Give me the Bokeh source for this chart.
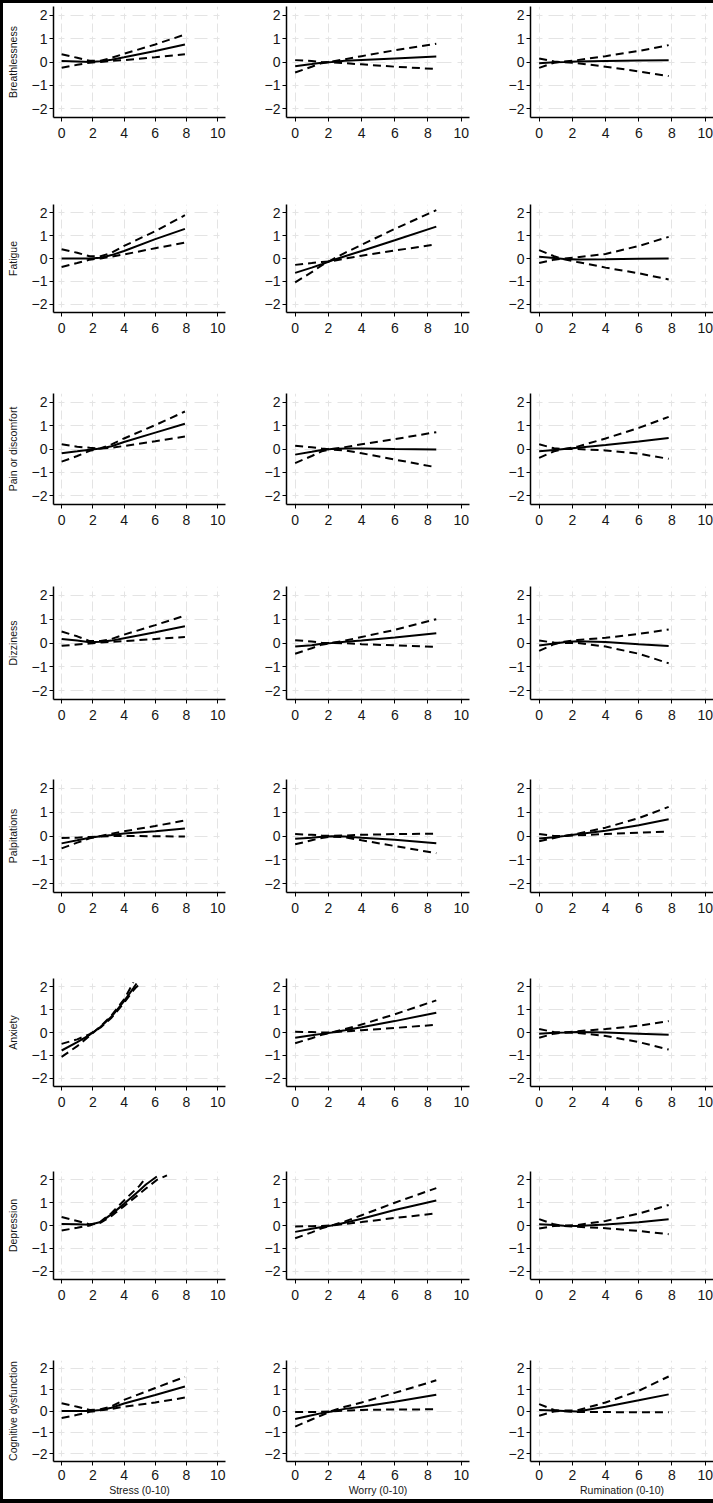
from bokeh.plotting import figure
from bokeh.layouts import column, row
from bokeh.models import Spacer, Range1d, FixedTicker
from bokeh.embed import file_html
from bokeh.resources import INLINE

NA = float("nan")

symptoms = ["Breathlessness", "Fatigue", "Pain or discomfort", "Dizziness",
            "Palpitations", "Anxiety", "Depression", "Cognitive dysfunction"]
exposures = ["Stress (0-10)", "Worry (0-10)", "Rumination (0-10)"]

x_ticks = [0, 2, 4, 6, 8, 10]
y_ticks = [-2, -1, 0, 1, 2]

# x positions of the evaluated curves, per exposure
stress_x = [0, 1, 1.8, 2.5, 3.2, 4, 6, 7.9]
worry_x = [0, 1, 1.6, 2.2, 3, 4, 6, 8.5]
rumination_x = [0, 0.9, 1.5, 2.3, 4, 6, 7.8]
anxiety_stress_x = [0, 1, 1.8, 2.5, 3.2, 4, 4.6, 4.8, 5.1]
depression_stress_x = [0, 1, 1.8, 2.5, 3.2, 4, 5, 5.4, 6.1, 6.75]

# each list: [stress, worry, rumination]
breathlessness_est = [[0.04, 0.02, 0.0, 0.03, 0.1, 0.2, 0.47, 0.75],
                      [-0.18, -0.09, -0.03, 0.0, 0.05, 0.09, 0.15, 0.23],
                      [-0.05, -0.01, 0.0, 0.02, 0.04, 0.06, 0.07]]
breathlessness_upper = [[0.33, 0.18, 0.05, 0.05, 0.18, 0.35, 0.75, 1.17],
                        [-0.45, -0.2, -0.05, 0.02, 0.12, 0.25, 0.5, 0.78],
                        [-0.25, -0.03, 0.02, 0.08, 0.25, 0.47, 0.72]]
breathlessness_lower = [[-0.25, -0.12, -0.03, 0.0, 0.05, 0.08, 0.2, 0.33],
                        [0.08, 0.04, 0.0, -0.01, -0.05, -0.1, -0.2, -0.3],
                        [0.15, 0.02, -0.01, -0.05, -0.2, -0.4, -0.6]]

fatigue_est = [[0.0, 0.0, 0.0, 0.03, 0.15, 0.33, 0.85, 1.3],
               [-0.63, -0.4, -0.25, -0.09, 0.1, 0.33, 0.8, 1.4],
               [0.08, 0.02, -0.02, -0.04, -0.03, -0.01, 0.0]]
fatigue_upper = [[0.41, 0.25, 0.1, 0.1, 0.25, 0.55, 1.2, 1.9],
                 [-1.05, -0.6, -0.3, -0.06, 0.25, 0.6, 1.3, 2.12],
                 [-0.2, -0.05, 0.0, 0.05, 0.2, 0.55, 0.95]]
fatigue_lower = [[-0.37, -0.2, -0.05, 0.0, 0.08, 0.18, 0.45, 0.7],
                 [-0.28, -0.2, -0.15, -0.12, 0.0, 0.12, 0.35, 0.62],
                 [0.37, 0.1, -0.03, -0.15, -0.4, -0.65, -0.92]]

pain_est = [[-0.18, -0.1, -0.03, 0.02, 0.12, 0.3, 0.7, 1.08],
            [-0.24, -0.12, -0.04, 0.0, 0.02, 0.02, 0.0, -0.02],
            [-0.1, -0.04, 0.0, 0.05, 0.17, 0.32, 0.47]]
pain_upper = [[-0.54, -0.3, -0.08, 0.03, 0.2, 0.45, 1.02, 1.6],
              [-0.6, -0.3, -0.1, 0.0, 0.08, 0.2, 0.42, 0.72],
              [-0.38, -0.1, 0.0, 0.1, 0.45, 0.9, 1.37]]
pain_lower = [[0.2, 0.1, 0.05, 0.02, 0.05, 0.13, 0.33, 0.53],
              [0.14, 0.07, 0.02, -0.02, -0.06, -0.18, -0.45, -0.78],
              [0.2, 0.03, 0.0, 0.0, -0.06, -0.2, -0.42]]

dizziness_est = [[0.17, 0.1, 0.03, 0.05, 0.1, 0.2, 0.45, 0.7],
                 [-0.15, -0.09, -0.03, 0.0, 0.05, 0.1, 0.23, 0.41],
                 [-0.1, -0.02, 0.03, 0.07, 0.04, -0.05, -0.13]]
dizziness_upper = [[0.48, 0.28, 0.08, 0.08, 0.17, 0.35, 0.75, 1.15],
                   [-0.45, -0.22, -0.07, 0.0, 0.1, 0.25, 0.55, 1.0],
                   [-0.33, -0.05, 0.05, 0.13, 0.22, 0.38, 0.57]]
dizziness_lower = [[-0.12, -0.06, -0.02, 0.02, 0.05, 0.08, 0.17, 0.25],
                   [0.12, 0.06, 0.01, 0.0, -0.01, -0.05, -0.1, -0.16],
                   [0.1, 0.02, 0.0, 0.0, -0.15, -0.45, -0.85]]

palpitations_est = [[-0.31, -0.18, -0.07, -0.01, 0.04, 0.1, 0.2, 0.31],
                    [-0.12, -0.07, -0.03, -0.01, -0.02, -0.07, -0.16, -0.3],
                    [-0.1, -0.05, 0.0, 0.07, 0.22, 0.45, 0.7]]
palpitations_upper = [[-0.52, -0.28, -0.1, 0.0, 0.1, 0.2, 0.42, 0.65],
                      [0.08, 0.05, 0.02, 0.01, 0.02, 0.05, 0.08, 0.1],
                      [-0.22, -0.08, 0.0, 0.1, 0.35, 0.75, 1.22]]
palpitations_lower = [[-0.08, -0.07, -0.04, -0.02, 0.0, 0.0, -0.01, -0.02],
                      [-0.35, -0.18, -0.08, -0.03, -0.05, -0.18, -0.42, -0.72],
                      [0.08, 0.0, 0.0, 0.03, 0.08, 0.14, 0.18]]

anxiety_est = [[-0.79, -0.42, -0.1, 0.25, 0.7, 1.38, 1.95, 2.15, NA],
               [-0.23, -0.12, -0.06, 0.0, 0.1, 0.23, 0.5, 0.87],
               [-0.05, -0.01, 0.0, 0.02, 0.0, -0.05, -0.1]]
anxiety_upper = [[-1.07, -0.6, -0.14, 0.27, 0.75, 1.45, 2.2, NA, NA],
                 [-0.47, -0.25, -0.1, 0.0, 0.15, 0.35, 0.8, 1.41],
                 [-0.23, -0.05, 0.0, 0.06, 0.15, 0.3, 0.5]]
anxiety_lower = [[-0.5, -0.3, -0.07, 0.22, 0.65, 1.3, 1.85, 2.0, 2.2],
                 [0.03, 0.02, 0.0, 0.0, 0.05, 0.1, 0.2, 0.34],
                 [0.15, 0.02, 0.0, -0.02, -0.15, -0.42, -0.75]]

depression_est = [[0.07, 0.05, 0.03, 0.15, 0.5, 0.95, 1.55, 1.8, 2.15, NA],
                  [-0.28, -0.14, -0.07, 0.0, 0.12, 0.3, 0.68, 1.1],
                  [0.06, 0.02, -0.01, -0.02, 0.04, 0.14, 0.27]]
depression_upper = [[-0.22, -0.1, 0.0, 0.17, 0.55, 1.1, 1.75, 2.1, NA, NA],
                    [-0.56, -0.3, -0.12, 0.0, 0.18, 0.45, 1.0, 1.64],
                    [-0.13, -0.02, 0.0, 0.02, 0.2, 0.52, 0.9]]
depression_lower = [[0.37, 0.2, 0.05, 0.12, 0.42, 0.85, 1.4, 1.62, 2.0, 2.2],
                    [-0.04, -0.03, -0.02, 0.0, 0.07, 0.15, 0.33, 0.53],
                    [0.28, 0.05, -0.02, -0.06, -0.12, -0.24, -0.38]]

cognitive_est = [[0.0, 0.0, 0.0, 0.05, 0.15, 0.35, 0.75, 1.15],
                 [-0.38, -0.2, -0.1, -0.02, 0.1, 0.2, 0.43, 0.76],
                 [0.05, 0.02, 0.0, -0.02, 0.2, 0.5, 0.78]]
cognitive_upper = [[0.36, 0.2, 0.05, 0.08, 0.22, 0.52, 1.08, 1.6],
                   [-0.73, -0.4, -0.2, 0.0, 0.2, 0.4, 0.85, 1.44],
                   [-0.22, -0.02, 0.02, 0.03, 0.4, 0.95, 1.62]]
cognitive_lower = [[-0.33, -0.18, -0.04, 0.03, 0.1, 0.2, 0.4, 0.63],
                   [-0.05, -0.05, -0.04, -0.02, 0.02, 0.05, 0.07, 0.08],
                   [0.32, 0.05, -0.01, -0.05, -0.05, -0.06, -0.06]]

rows_data = [
    (breathlessness_est, breathlessness_upper, breathlessness_lower, stress_x),
    (fatigue_est, fatigue_upper, fatigue_lower, stress_x),
    (pain_est, pain_upper, pain_lower, stress_x),
    (dizziness_est, dizziness_upper, dizziness_lower, stress_x),
    (palpitations_est, palpitations_upper, palpitations_lower, stress_x),
    (anxiety_est, anxiety_upper, anxiety_lower, anxiety_stress_x),
    (depression_est, depression_upper, depression_lower, depression_stress_x),
    (cognitive_est, cognitive_upper, cognitive_lower, stress_x),
]

FONT = "Liberation Sans"
TEXT = "#161616"
GRID = "#e4e4e4"

frame_w = [172, 183, 183]
border_l = [44, 43, 43]
border_r = [18, 18, 3]
frame_h = [111, 108, 111, 113, 113, 108, 108, 101]
border_t = [3, 8, 8, 8, 8, 8, 8, 8]
border_b = [79, 73, 74, 72, 78, 77, 73, 38]

X_RANGE = (-0.52, 10.5)
Y_RANGE = (-2.37, 2.37)


def panel(r, c):
    est, upper, lower, sx = rows_data[r]
    xs = [sx, worry_x, rumination_x][c]
    last = r == len(symptoms) - 1
    p = figure(frame_width=frame_w[c], frame_height=frame_h[r],
               x_range=Range1d(*X_RANGE), y_range=Range1d(*Y_RANGE),
               output_backend="svg", toolbar_location=None,
               min_border_left=border_l[c], min_border_right=border_r[c],
               min_border_top=border_t[r], min_border_bottom=border_b[r],
               background_fill_color="white", border_fill_color="white",
               outline_line_color=None)
    p.xaxis.ticker = FixedTicker(ticks=x_ticks)
    p.yaxis.ticker = FixedTicker(ticks=y_ticks)
    for ax in p.axis:
        ax.axis_line_color = "black"
        ax.axis_line_width = 1.5
        ax.major_tick_line_color = "black"
        ax.major_tick_line_width = 1
        ax.major_tick_out = 4
        ax.major_tick_in = 0
        ax.minor_tick_line_color = None
        ax.major_label_text_font = FONT
        ax.major_label_text_font_size = "14px"
        ax.major_label_text_color = TEXT
        ax.axis_label_text_font = FONT
        ax.axis_label_text_font_size = "10.5px"
        ax.axis_label_text_font_style = "normal"
        ax.axis_label_text_color = TEXT
    p.yaxis.major_label_standoff = 2
    p.xaxis.major_label_standoff = 4 if last else 6
    if c == 0:
        p.yaxis.axis_label = symptoms[r]
        p.yaxis.axis_label_standoff = 10
    if last:
        p.xaxis.axis_label = exposures[c]
        p.xaxis.axis_label_standoff = 1

    ppx = frame_w[c] / (X_RANGE[1] - X_RANGE[0])
    ppy = frame_h[r] / (Y_RANGE[1] - Y_RANGE[0])
    per_x = round(2 * ppx)
    per_y = round(ppy)
    p.xgrid.ticker = FixedTicker(ticks=x_ticks)
    p.ygrid.ticker = FixedTicker(ticks=y_ticks)
    p.ygrid.grid_line_color = GRID
    p.ygrid.grid_line_width = 1
    p.ygrid.grid_line_dash = "6 %d %d 6" % (6, per_x - 18)
    p.ygrid.grid_line_dash_offset = int(round(per_x - (-X_RANGE[0] * ppx - 3)))
    p.xgrid.grid_line_color = GRID
    p.xgrid.grid_line_width = 1
    p.xgrid.grid_line_dash = "6 %d %d %d" % (4, per_y - 14, 4)
    p.xgrid.grid_line_dash_offset = int(round(per_y - ((2 + Y_RANGE[0]) * -ppy - 3) % per_y))

    p.line(xs, est[c], line_color="black", line_width=2)
    p.line(xs, upper[c], line_color="black", line_width=2, line_dash="8 5")
    p.line(xs, lower[c], line_color="black", line_width=2, line_dash="8 5")
    return p


grid_rows = [row(*[panel(r, c) for c in range(3)]) for r in range(len(symptoms))]
grid = column(*grid_rows)

blk = {"background-color": "black"}
page = column(
    Spacer(width=713, height=3, styles=blk),
    row(Spacer(width=3, height=1496, styles=blk), grid,
        Spacer(width=3, height=1496, styles=blk)),
    Spacer(width=713, height=4, styles=blk),
)

open("out.html", "w").write(file_html(page, INLINE))
